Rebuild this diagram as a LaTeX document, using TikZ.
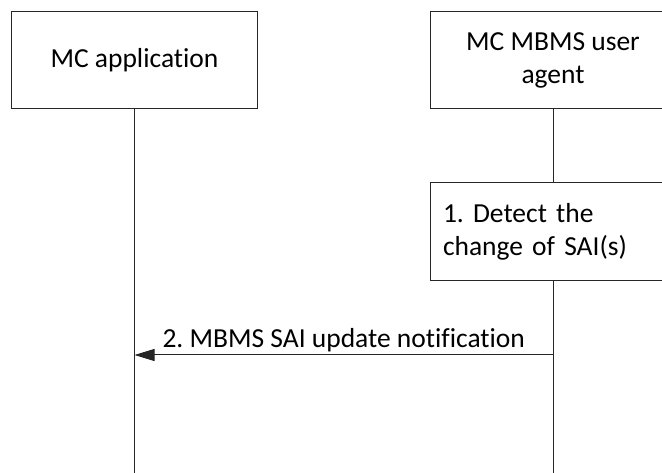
\documentclass[tikz,border=0pt]{standalone}
\usepackage{fontspec}
\setmainfont{Carlito}[Ligatures={NoCommon}]
\usetikzlibrary{arrows.meta}
\begin{document}
\frenchspacing
\begin{tikzpicture}[x=1pt,y=-1pt,
  every node/.style={font=\fontsize{27.5}{33}\selectfont},
  ent/.style={draw=black!85,line width=1pt,rectangle,minimum width=246pt,minimum height=97pt,align=center,inner sep=0pt},
  proc/.style={draw=black!85,line width=1pt,rectangle,minimum width=246pt,minimum height=98pt,text width=220pt,align=left,inner sep=13pt},
  life/.style={draw=black!85,line width=1pt},
  msg/.style={draw=black!85,line width=1pt,-{Triangle[length=20pt,width=12pt]}}]
\useasboundingbox (0,0) rectangle (662,473);
\clip (0,0) rectangle (662,473);
\node[ent] (app) at (134.5,60.5) {MC application};
\node[ent] (ua) at (553,60.5) {MC MBMS user\\agent};
\node[proc] (det) at (553,232) {1. Detect the\\change of SAI(s)};
\coordinate (append) at (134.5,475);
\coordinate (uaend) at (553,475);
\coordinate (m1s) at (553,355);
\coordinate (m1e) at (134.5,355);
\draw[life] (app.south) -- (append);
\draw[life] (ua.south) -- (det.north);
\draw[life] (det.south) -- (uaend);
\draw[msg] (m1s) -- node[above=1pt,inner sep=2pt] (m1l) {2. MBMS SAI update notification} (m1e);
\end{tikzpicture}
\end{document}
